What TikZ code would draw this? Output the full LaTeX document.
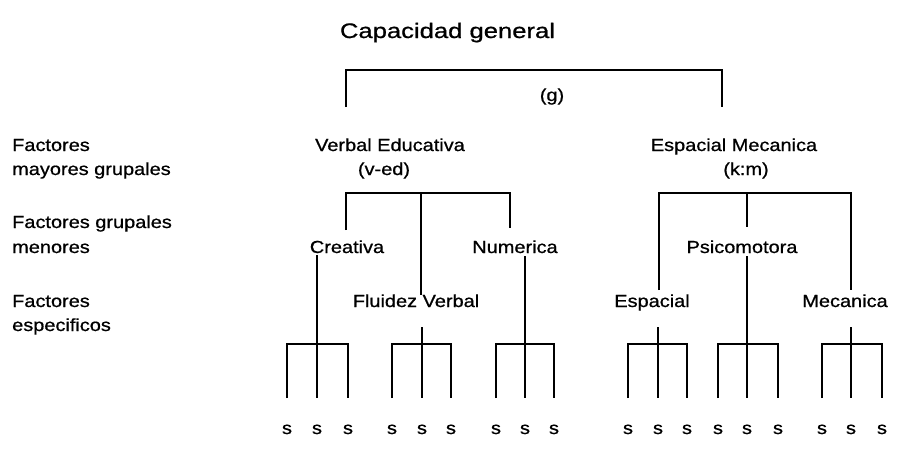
\documentclass[tikz,border=0pt]{standalone}
\usepackage{fontspec}
\setmainfont{Liberation Sans}[FakeStretch=1.14,FakeBold=0.8]
\newfontfamily\titlefont{Liberation Sans}[FakeStretch=1.22,FakeBold=0.8]
\begin{document}
\begin{tikzpicture}[x=1pt,y=-1pt,
  txt/.style={inner sep=0pt, anchor=base, font=\fontsize{17.5}{21}\selectfont},
  lbl/.style={txt, anchor=base west},
  ln/.style={line width=1.9pt, line cap=butt, line join=miter}]
\useasboundingbox (0,0) rectangle (897,451);
% title and top bracket
\node[txt, font=\titlefont\fontsize{21}{25}\selectfont] (title) at (447.5,38) {Capacidad general};
\node[txt] (g) at (552,101) {(g)};
\coordinate (gL) at (346,107); \coordinate (gLt) at (346,70);
\coordinate (gR) at (722,107); \coordinate (gRt) at (722,70);
\draw[ln] (gL) -- (gLt) -- (gRt) -- (gR);
% left labels
\node[lbl] (l1a) at (12,151) {Factores};
\node[lbl] (l1b) at (12,175) {mayores grupales};
\node[lbl] (l2a) at (12,228) {Factores grupales};
\node[lbl] (l2b) at (12,253) {menores};
\node[lbl] (l3a) at (12,307) {Factores};
\node[lbl] (l3b) at (12,331) {especificos};
% major group factors
\node[txt] (ve) at (390,151) {Verbal Educativa};
\node[txt] (ved) at (384,175) {(v-ed)};
\node[txt] (em) at (734,151) {Espacial Mecanica};
\node[txt] (km) at (746,175) {(k:m)};
% minor group factors
\node[txt] (cr) at (347,253) {Creativa};
\node[txt] (nu) at (515,253) {Numerica};
\node[txt] (ps) at (742,253) {Psicomotora};
% specific factors
\node[txt] (fv) at (416,307) {Fluidez Verbal};
\node[txt] (es) at (652,307) {Espacial};
\node[txt] (me) at (845,307) {Mecanica};
% v-ed bracket
\coordinate (vbar) at (421,193);
\coordinate (vL) at (346,230); \coordinate (vR) at (510,228); \coordinate (vM) at (421,295);
\draw[ln] (vL) |- (vbar) -| (vR);
\draw[ln] (vbar) -- (vM);
% k:m bracket
\coordinate (kbar) at (747,193);
\coordinate (kL) at (659,290); \coordinate (kR) at (851,290); \coordinate (kM) at (747,227);
\draw[ln] (kL) |- (kbar) -| (kR);
\draw[ln] (kbar) -- (kM);
% specific brackets and s labels
\foreach \a/\b/\c/\n in {287/317/348/1, 392/422/451/2, 496/525/554/3, 628/658/687/4, 718/747/778/5, 822/851/882/6}{
  \coordinate (h\n a) at (\a,344); \coordinate (h\n b) at (\b,344); \coordinate (h\n c) at (\c,344);
  \coordinate (e\n a) at (\a,398); \coordinate (e\n b) at (\b,398); \coordinate (e\n c) at (\c,398);
  \node[txt] (s\n a) at (\a,434) {s};
  \node[txt] (s\n b) at (\b,434) {s};
  \node[txt] (s\n c) at (\c,434) {s};
  \draw[ln] (e\n a) -- (h\n a) -- (h\n c) -- (e\n c);
  \draw[ln] (h\n b) -- (e\n b);
}
% stubs
\coordinate (st2) at (422,327); \coordinate (st4) at (658,327); \coordinate (st6) at (851,327);
\draw[ln] (st2) -- (h2b);
\draw[ln] (st4) -- (h4b);
\draw[ln] (st6) -- (h6b);
% long lines from minor factors
\coordinate (crb) at (317,255); \coordinate (nub) at (525,256); \coordinate (psb) at (747,256);
\draw[ln] (crb) -- (h1b);
\draw[ln] (nub) -- (h3b);
\draw[ln] (psb) -- (h5b);
\end{tikzpicture}
\end{document}
